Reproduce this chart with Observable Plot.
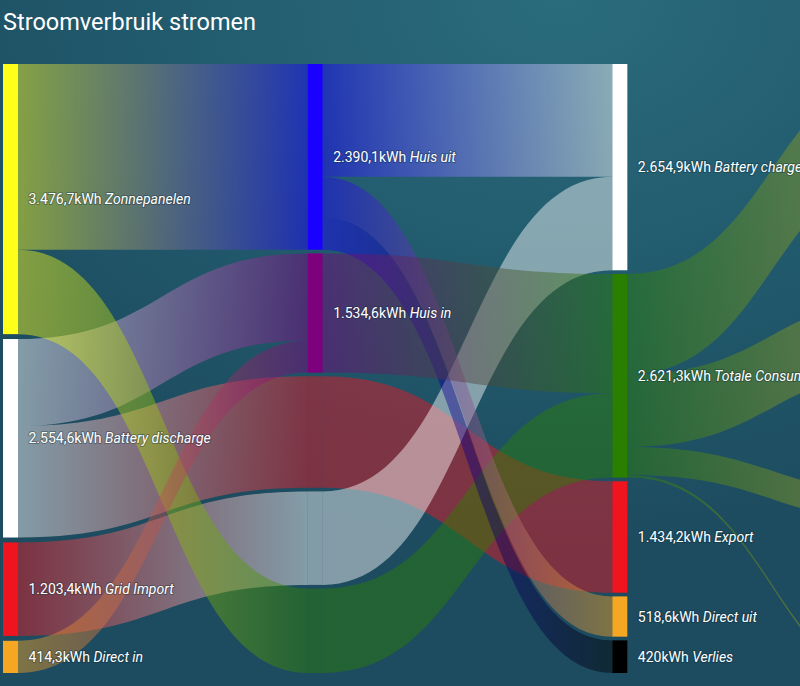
<!DOCTYPE html>
<html>
<head>
<meta charset="utf-8">
<script src="https://cdn.jsdelivr.net/npm/d3@7"></script>
<script src="https://cdn.jsdelivr.net/npm/@observablehq/plot@0.6"></script>
<style>
html, body { margin: 0; padding: 0; width: 800px; height: 686px; overflow: hidden; }
body {
  background: radial-gradient(ellipse 95% 80% at 70% 0%, #2a6c7c 0%, #225b6e 50%, #1d4b5f 100%);
  font-family: Roboto, "Noto Sans", sans-serif;
}
#wrap { position: relative; width: 800px; height: 686px; overflow: hidden; }
#title { position: absolute; left: 3px; top: 11px; font: 23.5px/1 Roboto, sans-serif; color: #ffffff; white-space: nowrap; }
#chart { position: absolute; left: 0; top: 0; width: 960px; height: 700px; }
#chart svg { max-width: none !important; width: 960px; height: 700px; }
</style>
</head>
<body>
<div id="wrap">
  <div id="chart"></div>
  <div id="title">Stroomverbruik stromen</div>
</div>
<script>
// ---------------- data ----------------
const sourceNames  = ["Zonnepanelen", "Battery discharge", "Grid Import", "Direct in"];
const sourceValues = [3476.7, 2554.6, 1203.4, 414.3];
const sourceColors = ["#ffff1a", "#ffffff", "#f0141e", "#f5a623"];

const houseNames  = ["Huis uit", "Huis in"];
const houseValues = [2390.1, 1534.6];
const houseColors = ["#1a00ff", "#7d007d"];

const sinkNames  = ["Battery charge", "Totale Consumptie", "Export", "Direct uit", "Verlies"];
const sinkValues = [2654.9, 2621.3, 1434.2, 518.6, 420];
const sinkColors = ["#ffffff", "#2a7f00", "#f0141e", "#f5a623", "#000000"];

// fourth column lies outside the visible window (only its incoming flows show)
const consumerNames  = ["Verbruik 1", "Verbruik 2", "Verbruik 3", "Verbruik 4"];
const consumerValues = [1294, 932, 362, 33.3];
const consumerColors = ["#cdae37", "#cdae37", "#cdae37", "#cdae37"];

const flowSource = ["Zonnepanelen", "Battery discharge", "Battery discharge", "Grid Import", "Zonnepanelen",
                    "Direct in", "Huis uit", "Huis uit", "Huis uit", "Huis in",
                    "Totale Consumptie", "Totale Consumptie", "Totale Consumptie", "Totale Consumptie"];
const flowTarget = ["Huis uit", "Huis in", "Export", "Battery charge", "Totale Consumptie",
                    "Huis in", "Battery charge", "Direct uit", "Verlies", "Totale Consumptie",
                    "Verbruik 1", "Verbruik 2", "Verbruik 3", "Verbruik 4"];
const flowValue  = [2390.1, 1120.3, 1434.2, 1203.4, 1086.6,
                    414.3, 1451.5, 518.6, 420, 1534.6,
                    1294, 932, 362, 33.3];

// ---------------- layout options ----------------
const spanKWh = 7838;                        // vertical extent of a full column, in kWh
const hiddenGapsKWh = [0, 1692, 1629, 2199]; // spacing of the off-screen column
const colStepPx = (917 - 3) / 3;
const nodeW = 15 / colStepPx;                // node width in column units
const linkOpacity = 0.45;

// ---------------- layout ----------------
const fmt = d3.formatLocale({decimal: ",", thousands: ".", grouping: [3], currency: ["€", ""]}).format(",.1~f");
const nodes = new Map();
const columns = [[], [], [], []];
function addNode(name, value, col, color, visible) {
  const n = {name, value, col, color, visible, ins: [], outs: []};
  nodes.set(name, n); columns[col].push(n); return n;
}
sourceNames.forEach((n, i) => addNode(n, sourceValues[i], 0, sourceColors[i], true));
houseNames.forEach((n, i) => addNode(n, houseValues[i], 1, houseColors[i], true));
sinkNames.forEach((n, i) => addNode(n, sinkValues[i], 2, sinkColors[i], true));
consumerNames.forEach((n, i) => addNode(n, consumerValues[i], 3, consumerColors[i], false));

const segs = [];
const passNodes = [];
flowSource.forEach((s, i) => {
  const a = nodes.get(s), b = nodes.get(flowTarget[i]), v = flowValue[i];
  let prev = a;
  for (let c = a.col + 1; c < b.col; c++) {
    const p = {name: s + "→" + b.name, value: v, col: c, color: b.color, visible: false, ins: [], outs: []};
    columns[c].push(p); passNodes.push(p);
    const sg = {from: prev, to: p, value: v, c0: prev.color, c1: b.color};
    segs.push(sg); prev.outs.push(sg); p.ins.push(sg);
    prev = p;
  }
  const sg = {from: prev, to: b, value: v, c0: prev.color, c1: b.color};
  segs.push(sg); prev.outs.push(sg); b.ins.push(sg);
});

columns.forEach((col, c) => {
  const sum = d3.sum(col, d => d.value);
  const gap = col.length > 1 ? (spanKWh - sum) / (col.length - 1) : 0;
  let y = 0;
  col.forEach((n, i) => {
    if (c === 3) y += hiddenGapsKWh[i];
    else if (i > 0) y += gap;
    n.y0 = y; n.y1 = y + n.value; y = n.y1;
  });
});
[...nodes.values(), ...passNodes].forEach(n => {
  let y = n.y0;
  n.outs.sort((a, b) => a.to.y0 - b.to.y0).forEach(s => { s.sy0 = y; s.sy1 = y + s.value; y = s.sy1; });
  y = n.y0;
  n.ins.sort((a, b) => a.from.y0 - b.from.y0).forEach(s => { s.ty0 = y; s.ty1 = y + s.value; y = s.ty1; });
});

// ---------------- marks ----------------
const measure = document.createElement("canvas").getContext("2d");
measure.font = "14px Roboto";

const marks = [];
segs.forEach((s, i) => {
  marks.push(Plot.areaY(
    [{x: s.from.col + nodeW, t: s.sy0, b: s.sy1}, {x: s.to.col, t: s.ty0, b: s.ty1}],
    {x: "x", y1: "t", y2: "b", curve: "bump-x", fill: `url(#lg${i})`, fillOpacity: linkOpacity}
  ));
});
marks.push(Plot.rect(passNodes, {x1: d => d.col, x2: d => d.col + nodeW, y1: "y0", y2: "y1", fill: "color", fillOpacity: linkOpacity}));
const allNodes = [...nodes.values()];
marks.push(Plot.rect(allNodes, {x1: d => d.col, x2: d => d.col + nodeW, y1: "y0", y2: "y1", fill: "color"}));

const labelNodes = allNodes.filter(d => d.visible);
const textStyle = {textAnchor: "start", fill: "#ffffff", fontSize: 14, fontFamily: "Roboto",
                   stroke: "#0a2833", strokeWidth: 2, strokeOpacity: 0.35};
marks.push(Plot.text(labelNodes, {x: d => d.col + nodeW, y: d => (d.y0 + d.y1) / 2,
  text: d => fmt(d.value) + "kWh", dx: 10, ...textStyle}));
labelNodes.forEach(d => {
  const w = measure.measureText(fmt(d.value) + "kWh ").width;
  marks.push(Plot.text([d], {x: d => d.col + nodeW, y: d => (d.y0 + d.y1) / 2,
    text: d => d.name, dx: 10 + w, fontStyle: "italic", ...textStyle}));
});

const svg = Plot.plot({
  width: 960, height: 700, margin: 0,
  x: {domain: [0, 3], range: [3, 917], axis: null},
  y: {domain: [0, spanKWh], range: [64, 673], axis: null},
  color: {type: "identity"},
  style: {background: "transparent", overflow: "visible", maxWidth: "none"},
  marks
});

const defs = d3.select(svg).insert("defs", ":first-child");
segs.forEach((s, i) => {
  const g = defs.append("linearGradient").attr("id", "lg" + i)
    .attr("x1", "0").attr("x2", "1").attr("y1", "0").attr("y2", "0");
  g.append("stop").attr("offset", "0").attr("stop-color", s.c0);
  g.append("stop").attr("offset", "1").attr("stop-color", s.c1);
});

document.getElementById("chart").appendChild(svg);
</script>
</body>
</html>
